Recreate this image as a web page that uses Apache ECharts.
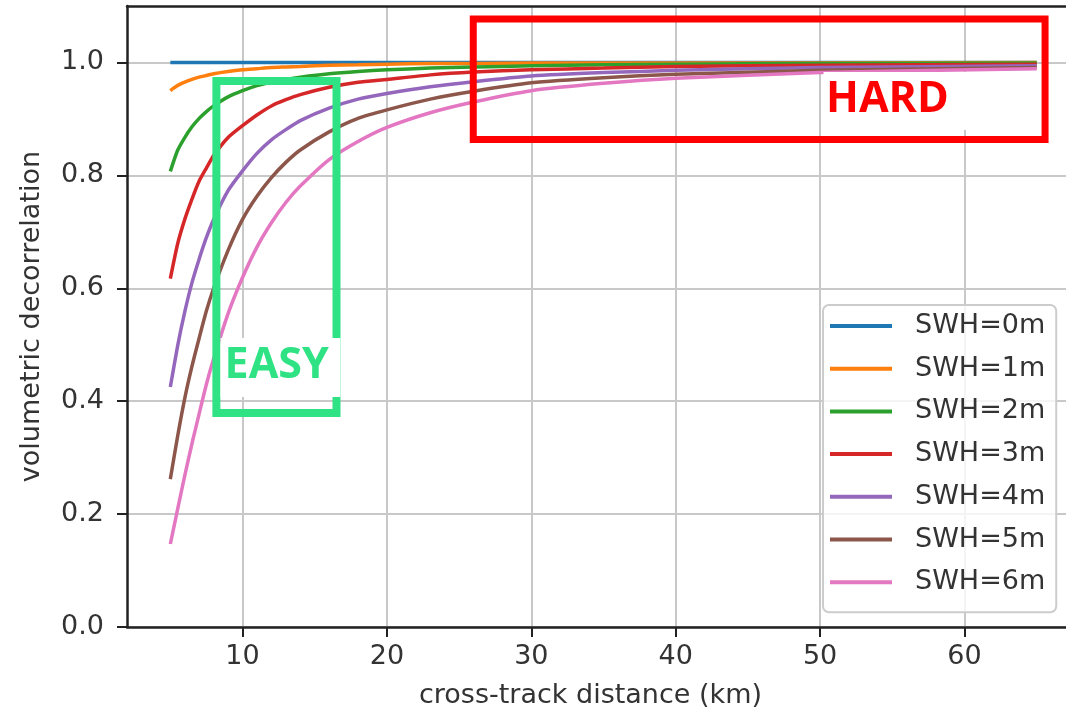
<!DOCTYPE html>
<html>
<head>
<meta charset="utf-8">
<title>Volumetric decorrelation vs cross-track distance</title>
<script src="https://cdn.jsdelivr.net/npm/echarts@6/dist/echarts.min.js"></script>
<style>
  html, body { margin: 0; padding: 0; background: #ffffff; }
  #chart { width: 1066px; height: 715px; }
</style>
</head>
<body>
<div id="chart"></div>
<script>
// Cross-track distance samples (km)
const distanceKm = [5, 5.5, 6, 6.5, 7, 7.5, 8, 9, 10, 11, 12, 13, 14, 16, 18, 20, 23, 26, 30, 35, 40, 50, 65];

// Volumetric decorrelation for each significant wave height
const swh0m = [1.0, 1.0, 1.0, 1.0, 1.0, 1.0, 1.0, 1.0, 1.0, 1.0, 1.0, 1.0, 1.0, 1.0, 1.0, 1.0, 1.0, 1.0, 1.0, 1.0, 1.0, 1.0, 1.0];
const swh1m = [0.950, 0.959, 0.965, 0.970, 0.974, 0.977, 0.980, 0.984, 0.987, 0.989, 0.991, 0.992, 0.993, 0.995, 0.996, 0.997, 0.998, 0.998, 0.999, 0.999, 0.999, 0.999, 1.0];
const swh2m = [0.807, 0.844, 0.867, 0.886, 0.901, 0.913, 0.923, 0.939, 0.950, 0.959, 0.965, 0.970, 0.974, 0.980, 0.984, 0.987, 0.990, 0.992, 0.994, 0.996, 0.997, 0.998, 0.999];
const swh3m = [0.617, 0.678, 0.722, 0.758, 0.790, 0.813, 0.835, 0.867, 0.888, 0.907, 0.923, 0.934, 0.943, 0.956, 0.965, 0.970, 0.978, 0.983, 0.987, 0.990, 0.993, 0.995, 0.997];
const swh4m = [0.425, 0.497, 0.558, 0.610, 0.652, 0.690, 0.722, 0.773, 0.808, 0.839, 0.863, 0.881, 0.897, 0.919, 0.935, 0.945, 0.957, 0.966, 0.976, 0.982, 0.986, 0.991, 0.994];
const swh5m = [0.262, 0.337, 0.405, 0.462, 0.512, 0.560, 0.600, 0.667, 0.722, 0.763, 0.796, 0.823, 0.845, 0.877, 0.901, 0.916, 0.935, 0.949, 0.964, 0.973, 0.979, 0.986, 0.991];
const swh6m = [0.147, 0.208, 0.268, 0.325, 0.378, 0.430, 0.475, 0.555, 0.619, 0.673, 0.716, 0.752, 0.781, 0.828, 0.860, 0.885, 0.911, 0.930, 0.950, 0.963, 0.972, 0.982, 0.989];

const seriesNames = ['SWH=0m', 'SWH=1m', 'SWH=2m', 'SWH=3m', 'SWH=4m', 'SWH=5m', 'SWH=6m'];
const seriesValues = [swh0m, swh1m, swh2m, swh3m, swh4m, swh5m, swh6m];

// Tick labels
const xTicks = [10, 20, 30, 40, 50, 60];
const yTicks = [0.0, 0.2, 0.4, 0.6, 0.8, 1.0];

const palette = ['#1f77b4', '#ff7f0e', '#2ca02c', '#d62728', '#9467bd', '#8c564b', '#e377c2'];
const baseFont = '"DejaVu Sans", sans-serif';
const textColor = '#333333';
const spineColor = '#222222';
const gridColor = '#c8c8c8';

const chart = echarts.init(document.getElementById('chart'), null, { renderer: 'canvas' });

const series = seriesNames.map((name, i) => ({
  name: name,
  type: 'line',
  data: distanceKm.map((d, j) => [d, seriesValues[i][j]]),
  showSymbol: false,
  symbol: 'none',
  smooth: 0.2,
  lineStyle: { width: 3.5, color: palette[i] },
  itemStyle: { color: palette[i] },
  emphasis: { disabled: true },
  z: 3
}));

chart.setOption({
  animation: false,
  backgroundColor: '#ffffff',
  color: palette,
  grid: { left: 127, right: 0, top: 6, bottom: 88 },
  xAxis: [
    {
      type: 'value',
      min: 2,
      max: 67.03,
      name: 'cross-track distance (km)',
      nameLocation: 'middle',
      nameGap: 55,
      nameTextStyle: { fontFamily: baseFont, fontSize: 27, color: textColor, padding: [0, 12, 0, 0] },
      axisLine: { show: true, onZero: false, lineStyle: { color: spineColor, width: 2.5 } },
      axisTick: { show: true, customValues: xTicks, length: 10, lineStyle: { color: spineColor, width: 2 } },
      axisLabel: {
        customValues: xTicks,
        margin: 16,
        fontFamily: baseFont,
        fontSize: 27,
        color: textColor,
        formatter: v => String(v)
      },
      splitLine: { show: true, lineStyle: { color: gridColor, width: 2 } }
    },
    {
      // top spine
      type: 'value',
      position: 'top',
      min: 2,
      max: 67.03,
      axisLine: { show: true, onZero: false, lineStyle: { color: spineColor, width: 2.5 } },
      axisTick: { show: false },
      axisLabel: { show: false },
      splitLine: { show: false }
    }
  ],
  yAxis: {
    type: 'value',
    min: 0,
    max: 1.1,
    name: 'volumetric decorrelation',
    nameLocation: 'middle',
    nameGap: 82,
    nameRotate: 90,
    nameTextStyle: { fontFamily: baseFont, fontSize: 27, color: textColor },
    axisLine: { show: true, onZero: false, lineStyle: { color: spineColor, width: 2.5 } },
    axisTick: { show: true, customValues: yTicks, length: 10, lineStyle: { color: spineColor, width: 2 } },
    axisLabel: {
      customValues: yTicks,
      margin: 23,
      fontFamily: baseFont,
      fontSize: 27,
      color: textColor,
      formatter: v => Number(v).toFixed(1)
    },
    splitLine: { show: true, lineStyle: { color: gridColor, width: 2 } }
  },
  legend: {
    orient: 'vertical',
    left: 823,
    top: 305,
    data: seriesNames,
    icon: 'rect',
    itemWidth: 62,
    itemHeight: 4,
    itemGap: 12.7,
    padding: [6, 11, 15, 7],
    backgroundColor: 'rgba(255,255,255,0.8)',
    borderColor: '#cccccc',
    borderWidth: 2,
    borderRadius: 6,
    selectedMode: false,
    textStyle: {
      fontFamily: baseFont,
      fontSize: 27,
      lineHeight: 30,
      color: textColor,
      padding: [0, 0, 0, 18]
    }
  },
  series: series
});

// Annotation boxes, given in data coordinates and placed through the grid's scales
const easyBox = { x0: 8.19, x1: 16.51, y0: 0.379, y1: 0.967 };
const easyPatch = { x0: 8.48, x1: 16.78, y0: 0.4074, y1: 0.512 };
const easyLabel = { x: 12.37, y: 0.462, text: 'EASY' };
const hardBox = { x0: 25.98, x1: 65.58, y0: 0.8636, y1: 1.077 };
const hardPatch = { x0: 50.24, x1: 60.95, y0: 0.8804, y1: 0.983 };
const hardLabel = { x: 54.66, y: 0.934, text: 'HARD' };

function toPx(x, y) {
  return chart.convertToPixel({ xAxisIndex: 0, yAxisIndex: 0 }, [x, y]);
}
function rectShape(b) {
  const a = toPx(b.x0, b.y1);
  const c = toPx(b.x1, b.y0);
  return { x: a[0], y: a[1], width: c[0] - a[0], height: c[1] - a[1] };
}

const easyGreen = '#2fe384';
const hardRed = '#ff0000';
const labelFont = 'bold 43px "Open Sans", "Noto Sans", sans-serif';

const easyPt = toPx(easyLabel.x, easyLabel.y);
const hardPt = toPx(hardLabel.x, hardLabel.y);

chart.setOption({
  graphic: [
    { type: 'rect', z: 100, shape: rectShape(easyBox), style: { fill: 'none', stroke: easyGreen, lineWidth: 8 } },
    { type: 'rect', z: 101, shape: rectShape(easyPatch), style: { fill: '#ffffff' } },
    { type: 'text', z: 102, x: easyPt[0], y: easyPt[1],
      style: { text: easyLabel.text, font: labelFont, fill: easyGreen, align: 'center', verticalAlign: 'middle' } },
    { type: 'rect', z: 100, shape: rectShape(hardBox), style: { fill: 'none', stroke: hardRed, lineWidth: 7 } },
    { type: 'rect', z: 101, shape: rectShape(hardPatch), style: { fill: '#ffffff' } },
    { type: 'text', z: 102, x: hardPt[0], y: hardPt[1],
      style: { text: hardLabel.text, font: labelFont, fill: hardRed, align: 'center', verticalAlign: 'middle' } }
  ]
});
</script>
</body>
</html>
